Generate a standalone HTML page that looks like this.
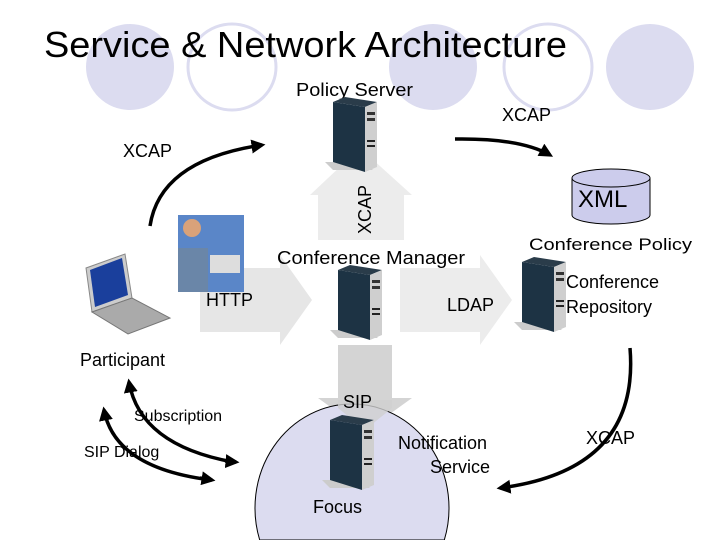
<!DOCTYPE html>
<html><head><meta charset="utf-8"><style>
html,body{margin:0;width:720px;height:540px;overflow:hidden;background:#fff;font-family:"Liberation Sans",sans-serif}
svg{display:block;overflow:hidden}
</style></head><body>
<svg width="720" height="540" viewBox="0 0 720 540" xmlns="http://www.w3.org/2000/svg">
<defs>
<marker id="ah" markerWidth="4" markerHeight="4" refX="3" refY="2" orient="auto" markerUnits="strokeWidth"><path d="M0,0 L4,2 L0,4 z" fill="#000"/></marker>
<g id="srv">
<polygon points="-8,60 30,60 40,68 0,68" fill="#ccc"/>
<polygon points="0,0 12,-5 44,0 32,5" fill="#2a3c4a"/>
<polygon points="0,0 32,5 32,70 0,60" fill="#1d3344"/>
<polygon points="32,5 44,0 44,65 32,70" fill="#cfcfcf"/>
<rect x="34" y="10" width="8" height="3" fill="#333"/>
<rect x="34" y="16" width="8" height="3" fill="#333"/>
<rect x="34" y="38" width="8" height="2" fill="#222"/>
<rect x="34" y="43" width="8" height="2" fill="#222"/>
</g>
</defs>
<ellipse cx="130" cy="67" rx="44" ry="43" fill="#dcdcf0"/>
<ellipse cx="232" cy="67" rx="44" ry="43" fill="none" stroke="#dcdcf0" stroke-width="3"/>
<ellipse cx="433" cy="67" rx="44" ry="43" fill="#dcdcf0"/>
<ellipse cx="548" cy="67" rx="44" ry="43" fill="none" stroke="#dcdcf0" stroke-width="3"/>
<ellipse cx="650" cy="67" rx="44" ry="43" fill="#dcdcf0"/>
<text x="44" y="57" font-size="36" textLength="523" lengthAdjust="spacingAndGlyphs" fill="#000">Service &amp; Network Architecture</text>
<text x="296" y="96" font-size="18" textLength="117" lengthAdjust="spacingAndGlyphs">Policy Server</text>
<text x="502" y="121" font-size="18">XCAP</text>
<text x="123" y="157" font-size="18">XCAP</text>
<polygon points="318,240 318,195 310,195 360,148 412,195 404,195 404,240" fill="#ececec"/>
<polygon points="200,268 280,268 280,255 312,300 280,345 280,332 200,332" fill="#e6e6e6"/>
<polygon points="400,268 480,268 480,255 512,300 480,345 480,332 400,332" fill="#ececec"/>
<polygon points="338,345 392,345 392,398 412,398 365,432 318,398 338,398" fill="#d4d4d4"/>
<path d="M259.7,540 A97,104 0 1 1 444.3,540 Z" fill="#dcdcf0" stroke="#000" stroke-width="1"/>
<polygon points="338,400 392,400 392,408 365,430 338,408" fill="#d0d0d0" opacity="0.8"/>
<use href="#srv" x="333" y="102"/>
<use href="#srv" x="338" y="270"/>
<use href="#srv" x="522" y="262"/>
<use href="#srv" x="330" y="420"/>
<path d="M572,178 L572,215 A39,9 0 0 0 650,215 L650,178" fill="#ccccec" stroke="#000"/>
<ellipse cx="611" cy="178" rx="39" ry="9" fill="#ccccec" stroke="#000"/>
<text x="578" y="207" font-size="24">XML</text>
<text x="371" y="234" font-size="18" transform="rotate(-90 371 234)">XCAP</text>
<text x="529" y="250" font-size="17" textLength="163" lengthAdjust="spacingAndGlyphs">Conference Policy</text>
<text x="277" y="264" font-size="18" textLength="188" lengthAdjust="spacingAndGlyphs">Conference Manager</text>
<text x="566" y="288" font-size="18">Conference</text>
<text x="566" y="313" font-size="18">Repository</text>
<text x="206" y="306" font-size="18">HTTP</text>
<text x="447" y="311" font-size="18">LDAP</text>
<text x="80" y="366" font-size="18">Participant</text>
<text x="343" y="408" font-size="18">SIP</text>
<text x="134" y="421" font-size="16">Subscription</text>
<text x="84" y="457" font-size="16">SIP Dialog</text>
<text x="398" y="449" font-size="18">Notification</text>
<text x="430" y="473" font-size="18">Service</text>
<text x="313" y="513" font-size="18">Focus</text>
<text x="586" y="444" font-size="18">XCAP</text>
<polygon points="86,268 125,254 132,298 92,312" fill="#ccc" stroke="#888"/>
<polygon points="90,270 122,258 128,295 95,307" fill="#1a3f9c"/>
<polygon points="92,312 132,298 170,318 128,334" fill="#aaa" stroke="#777"/>
<rect x="178" y="215" width="66" height="77" fill="#5a86c8"/>
<rect x="178" y="248" width="30" height="44" fill="#6a86a8"/>
<circle cx="192" cy="228" r="9" fill="#d9a27a"/>
<rect x="210" y="255" width="30" height="18" fill="#ddd"/>
<g fill="none" stroke="#000" stroke-width="3.5">
<path d="M150,226 Q160,160 262,145" marker-end="url(#ah)"/>
<path d="M455,139 Q520,138 550,155" marker-end="url(#ah)"/>
<path d="M630,348 Q640,470 500,488" marker-end="url(#ah)"/>
<path d="M233,462 Q140,445 129,382" marker-end="url(#ah)"/>
<path d="M211,480 Q115,468 104,410" marker-end="url(#ah)"/>
<path d="M225,461 L236,462" marker-end="url(#ah)"/>
<path d="M200,478 L212,480" marker-end="url(#ah)"/>
</g>
</svg>
</body></html>
